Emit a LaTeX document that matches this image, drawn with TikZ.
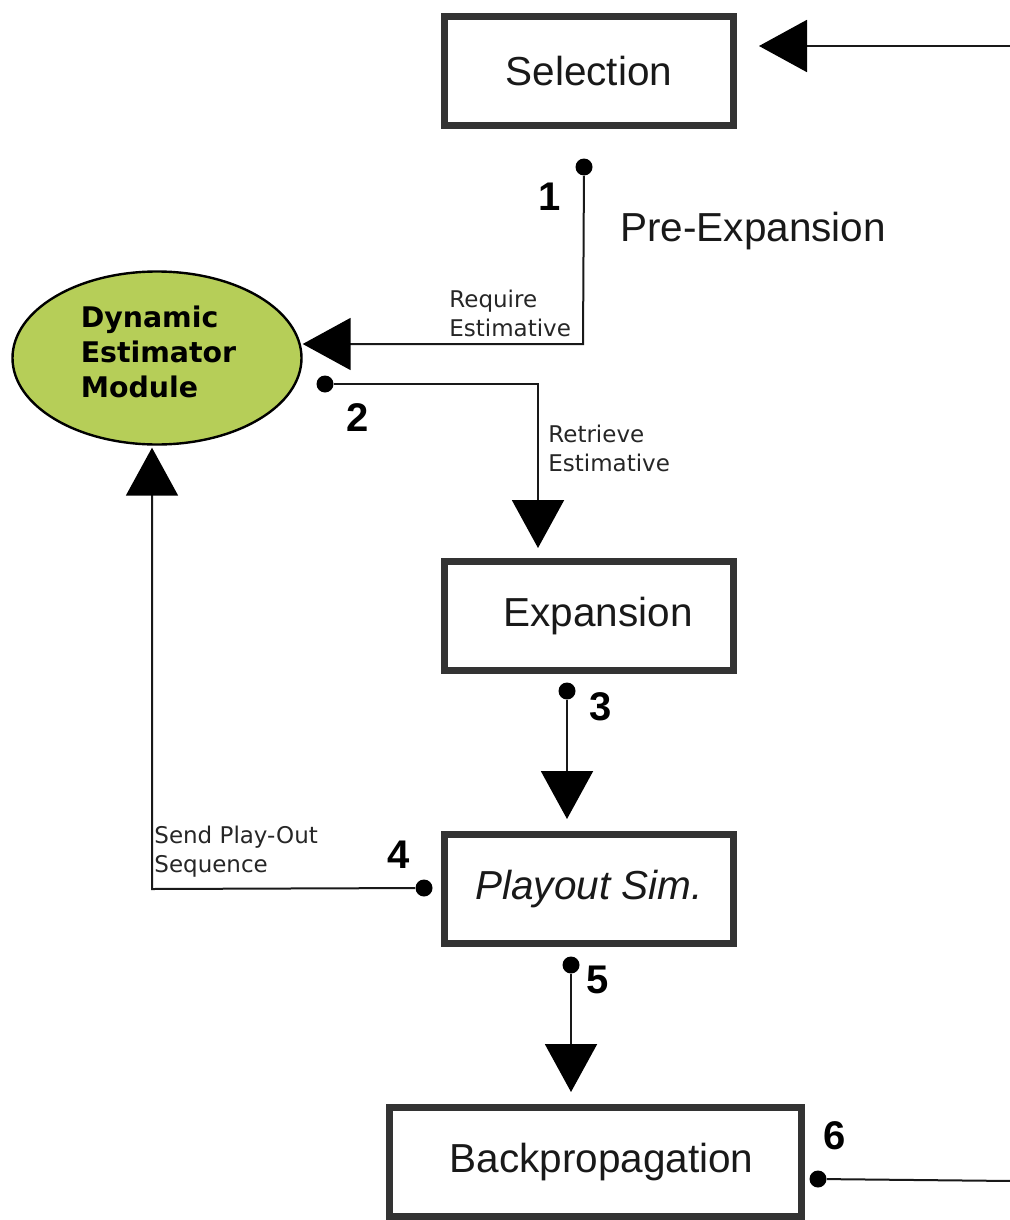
\documentclass[tikz,border=0pt]{standalone}
\usepackage{fontspec}
\setmainfont{Liberation Sans}
\newfontfamily\dejavu{DejaVu Sans}
\usetikzlibrary{arrows.meta,shapes.geometric}
\definecolor{boxgray}{HTML}{333333}
\definecolor{demgreen}{RGB}{182,206,88}
\begin{document}
\begin{tikzpicture}[x=0.5pt,y=-0.5pt,
  stagebox/.style={draw=boxgray, line width=3.5pt, rectangle, inner sep=0pt,
    minimum width=144.5pt, minimum height=54.5pt, text=black!90,
    font=\fontsize{20.25}{24}\selectfont},
  conn/.style={line width=1pt, draw=black!90},
  arr/.style={conn, -{Triangle[length=24pt,width=26pt,color=black]}},
  dotnode/.style={circle, fill=black, inner sep=0pt, minimum size=8.5pt},
  num/.style={font=\fontsize{20}{24}\selectfont\bfseries, inner sep=0pt},
  small/.style={font=\dejavu\fontsize{11.5}{14.5}\selectfont, align=left,
    inner sep=0pt, anchor=west, text=black!85},
]
\useasboundingbox (0,0) rectangle (1010,1220);

% stage boxes
\node[stagebox] (sel) at (589,71) {Selection};
\node[stagebox] (exp) at (589,616) {\hspace*{9pt}Expansion};
\node[stagebox] (play) at (589,889) {\itshape Playout Sim.};
\node[stagebox, minimum width=206pt] (back) at (595.5,1162) {\hspace*{6pt}Backpropagation};

% estimator ellipse
\node[ellipse, draw=black, line width=1.2pt, fill=demgreen, minimum width=144.5pt,
  minimum height=86.5pt, inner sep=0pt, align=left,
  font=\dejavu\bfseries\fontsize{14.2}{17.5}\selectfont] (dem) at (157,358)
  {\hspace*{1.5pt}Dynamic\\\hspace*{1.5pt}Estimator\\\hspace*{1.5pt}Module\\[-11.5pt]\mbox{}};

% dots
\node[dotnode] (d1) at (584,167) {};
\node[dotnode] (d2) at (325,384) {};
\node[dotnode] (d3) at (567,691) {};
\node[dotnode] (d4) at (424,888) {};
\node[dotnode] (d5) at (571,965) {};
\node[dotnode] (d6) at (818,1179) {};

% corner / free-end coordinates
\coordinate (rin) at (1012,46);
\coordinate (k1) at (583,344);
\coordinate (k2) at (538,384);
\coordinate (k4) at (152,889);
\coordinate (rout) at (1012,1181);

% connectors
\draw[arr, shorten >=11pt] (rin) -- (rin -| sel.east);
\draw[arr] (d1) -- (k1) -- (k1 -| dem.east);
\draw[arr, shorten >=5pt] (d2) -- (k2) -- (k2 |- exp.north);
\draw[arr, shorten >=6pt] (d3) -- (d3 |- play.north);
\draw[arr, shorten >=1pt] (d4) -- (k4) -- (k4 |- dem.south);
\draw[arr, shorten >=6pt] (d5) -- (d5 |- back.north);
\draw[conn] (d6) -- (rout);

% numbers
\node[num] (n1) at (550,197) {1};
\node[num] (n2) at (358,418) {2};
\node[num] (n3) at (601,707) {3};
\node[num] (n4) at (399,855) {4};
\node[num] (n5) at (598,980) {5};
\node[num] (n6) at (835,1136) {6};

% labels
\node[anchor=base west, inner sep=0pt, text=black!90,
  font=\fontsize{20.25}{24}\selectfont] (pre) at (620,241) {Pre-Expansion};
\node[small] (lreq) at (449,313) {Require\\Estimative};
\node[small] (lret) at (548,448) {Retrieve\\Estimative};
\node[small] (lsend) at (154,852) {Send Play-Out\\Sequence};
\end{tikzpicture}
\end{document}
